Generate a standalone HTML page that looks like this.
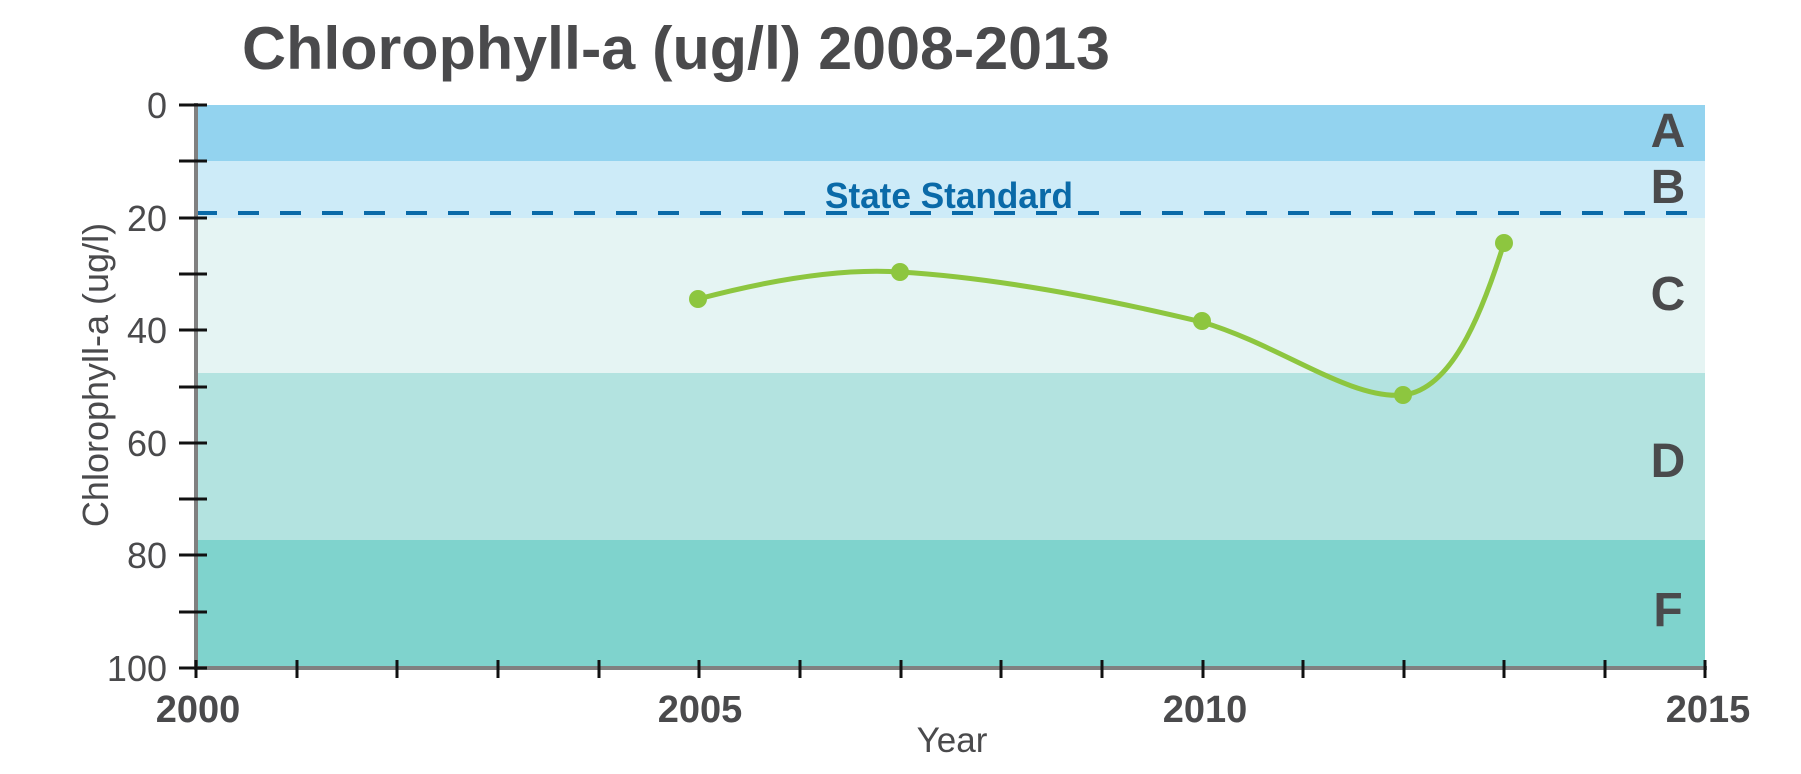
<!DOCTYPE html>
<html><head><meta charset="utf-8"><style>html,body{margin:0;padding:0;background:#fff}svg{display:block}</style></head>
<body>
<svg width="1801" height="774" viewBox="0 0 1801 774" xmlns="http://www.w3.org/2000/svg" font-family="Liberation Sans, sans-serif">
<text x="242" y="69" font-size="60" font-weight="bold" fill="#4a4a4c" textLength="868" lengthAdjust="spacingAndGlyphs">Chlorophyll-a (ug/l) 2008-2013</text>
<rect x="196" y="105" width="1509" height="56" fill="#93d3ef"/>
<rect x="196" y="161" width="1509" height="57" fill="#cdebf8"/>
<rect x="196" y="218" width="1509" height="155" fill="#e5f4f3"/>
<rect x="196" y="373" width="1509" height="167" fill="#b3e3e0"/>
<rect x="196" y="540" width="1509" height="128" fill="#7fd3cd"/>
<line x1="196" y1="213" x2="1705" y2="213" stroke="#0a6aa8" stroke-width="4" stroke-dasharray="21 21"/>
<text x="825" y="208" font-size="36" font-weight="bold" fill="#0a6aa8" textLength="248" lengthAdjust="spacingAndGlyphs">State Standard</text>
<g font-size="48" font-weight="bold" fill="#4a4a4c" text-anchor="middle">
<text x="1668" y="147">A</text><text x="1668" y="203">B</text><text x="1668" y="310">C</text><text x="1668" y="477">D</text><text x="1668" y="626">F</text>
</g>
<path d="M698,299 C770,280 840,268 900,272 C1000,278 1110,300 1202,322 C1280,345 1350,400 1403,395 C1450,390 1480,320 1504,243" fill="none" stroke="#8dc63f" stroke-width="5"/>
<g fill="#8dc63f"><circle cx="698" cy="299" r="9"/><circle cx="900" cy="272" r="9"/><circle cx="1202" cy="321" r="9"/><circle cx="1403" cy="395" r="9"/><circle cx="1504" cy="243" r="9"/></g>
<line x1="196" y1="103" x2="196" y2="670" stroke="#808080" stroke-width="4"/>
<line x1="194" y1="668" x2="1707" y2="668" stroke="#808080" stroke-width="4"/>
<g stroke="#111" stroke-width="3">
<line x1="179" y1="105" x2="207" y2="105"/><line x1="179" y1="161" x2="207" y2="161"/><line x1="179" y1="218" x2="207" y2="218"/><line x1="179" y1="274" x2="207" y2="274"/><line x1="179" y1="330" x2="207" y2="330"/><line x1="179" y1="387" x2="207" y2="387"/><line x1="179" y1="443" x2="207" y2="443"/><line x1="179" y1="499" x2="207" y2="499"/><line x1="179" y1="555" x2="207" y2="555"/><line x1="179" y1="612" x2="207" y2="612"/><line x1="179" y1="668" x2="207" y2="668"/>
<line x1="196" y1="660" x2="196" y2="678"/><line x1="297" y1="660" x2="297" y2="678"/><line x1="397" y1="660" x2="397" y2="678"/><line x1="498" y1="660" x2="498" y2="678"/><line x1="599" y1="660" x2="599" y2="678"/><line x1="699" y1="660" x2="699" y2="678"/><line x1="800" y1="660" x2="800" y2="678"/><line x1="901" y1="660" x2="901" y2="678"/><line x1="1001" y1="660" x2="1001" y2="678"/><line x1="1102" y1="660" x2="1102" y2="678"/><line x1="1203" y1="660" x2="1203" y2="678"/><line x1="1303" y1="660" x2="1303" y2="678"/><line x1="1404" y1="660" x2="1404" y2="678"/><line x1="1504" y1="660" x2="1504" y2="678"/><line x1="1605" y1="660" x2="1605" y2="678"/><line x1="1705" y1="660" x2="1705" y2="678"/>
</g>
<g font-size="36" fill="#4a4a4c" text-anchor="end">
<text x="167" y="118">0</text><text x="167" y="231">20</text><text x="167" y="343">40</text><text x="167" y="456">60</text><text x="167" y="568">80</text><text x="167" y="681">100</text>
</g>
<g font-size="38" font-weight="bold" fill="#4a4a4c" text-anchor="middle">
<text x="198" y="722">2000</text><text x="700" y="722">2005</text><text x="1205" y="722">2010</text><text x="1708" y="722">2015</text>
</g>
<text x="952" y="752" font-size="35" fill="#4a4a4c" text-anchor="middle">Year</text>
<text transform="translate(108,375) rotate(-90)" font-size="36" fill="#4a4a4c" text-anchor="middle">Chlorophyll-a (ug/l)</text>
</svg>
</body></html>
